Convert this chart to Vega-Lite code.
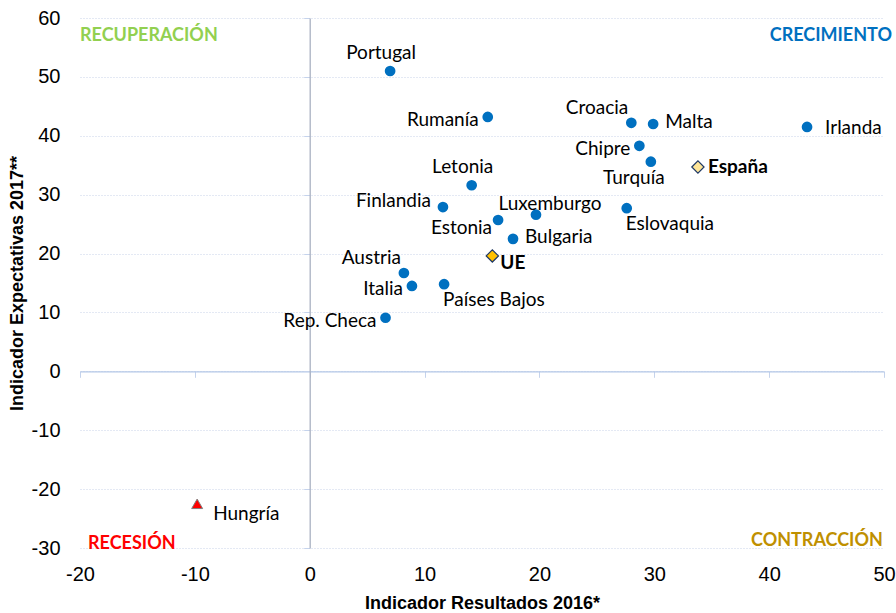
{
  "$schema": "https://vega.github.io/schema/vega-lite/v6.json",
  "width": 804,
  "height": 530,
  "autosize": {"type": "none"},
  "padding": {"left": 80, "top": 18, "right": 12, "bottom": 65},
  "background": "white",
  "config": {
    "view": {"stroke": null},
    "text": {"font": "Lato", "fontSize": 19, "color": "#000000", "baseline": "middle"}
  },
  "datasets": {
    "d": [
      {"pais": "Portugal", "x": 7.0, "y": 51.0, "tipo": "p"},
      {"pais": "Rumanía", "x": 15.5, "y": 43.2, "tipo": "p"},
      {"pais": "Croacia", "x": 28.0, "y": 42.2, "tipo": "p"},
      {"pais": "Malta", "x": 29.9, "y": 42.0, "tipo": "p"},
      {"pais": "Irlanda", "x": 43.3, "y": 41.5, "tipo": "p"},
      {"pais": "Chipre", "x": 28.7, "y": 38.3, "tipo": "p"},
      {"pais": "Turquía", "x": 29.7, "y": 35.6, "tipo": "p"},
      {"pais": "España", "x": 33.8, "y": 34.7, "tipo": "ES"},
      {"pais": "Letonia", "x": 14.1, "y": 31.6, "tipo": "p"},
      {"pais": "Finlandia", "x": 11.6, "y": 27.9, "tipo": "p"},
      {"pais": "Luxemburgo", "x": 19.7, "y": 26.6, "tipo": "p"},
      {"pais": "Eslovaquia", "x": 27.6, "y": 27.7, "tipo": "p"},
      {"pais": "Estonia", "x": 16.4, "y": 25.7, "tipo": "p"},
      {"pais": "Bulgaria", "x": 17.7, "y": 22.5, "tipo": "p"},
      {"pais": "UE", "x": 15.9, "y": 19.6, "tipo": "UE"},
      {"pais": "Austria", "x": 8.2, "y": 16.7, "tipo": "p"},
      {"pais": "Italia", "x": 8.9, "y": 14.5, "tipo": "p"},
      {"pais": "Países Bajos", "x": 11.7, "y": 14.8, "tipo": "p"},
      {"pais": "Rep. Checa", "x": 6.6, "y": 9.1, "tipo": "p"},
      {"pais": "Hungría", "x": -9.8, "y": -22.5, "tipo": "HU"}
    ]
  },
  "data": {"name": "d"},
  "resolve": {"axis": {"x": "independent", "y": "independent"}},
  "layer": [
    {
      "transform": [{"filter": "datum.tipo == 'p'"}],
      "mark": {"type": "circle", "size": 115, "opacity": 1, "color": "#0070C0"},
      "encoding": {
        "x": {
          "field": "x", "type": "quantitative",
          "scale": {"domain": [-20, 50], "nice": false, "zero": false},
          "axis": {
            "orient": "bottom", "values": [-20, -10, 0, 10, 20, 30, 40, 50],
            "labelExpr": "replace(datum.label, '\u2212', '-')",
            "domain": false, "ticks": false, "tickSize": 0, "grid": false,
            "labelFont": "Liberation Sans Narrow, Liberation Sans", "labelFontSize": 20, "labelColor": "#000000",
            "labelPadding": 16, "labelFlush": false,
            "title": "Indicador Resultados 2016*",
            "titleFont": "Liberation Sans Narrow, Liberation Sans", "titleFontSize": 18, "titleFontWeight": "bold", "titleColor": "#000000",
            "titleX": 402, "titleY": 55, "titleBaseline": "middle", "titleAlign": "center"
          }
        },
        "y": {
          "field": "y", "type": "quantitative",
          "scale": {"domain": [-30, 60], "nice": false, "zero": false},
          "axis": {
            "orient": "left", "values": [-30, -20, -10, 0, 10, 20, 30, 40, 50, 60],
            "labelExpr": "replace(datum.label, '\u2212', '-')",
            "domain": false, "ticks": false, "tickSize": 0,
            "grid": true, "gridColor": "#C9D3E8", "gridDash": [1, 2], "gridWidth": 1,
            "labelFont": "Liberation Sans Narrow, Liberation Sans", "labelFontSize": 20, "labelColor": "#000000",
            "labelPadding": 20, "labelFlush": false,
            "title": "Indicador Expectativas 2017**",
            "titleFont": "Liberation Sans Narrow, Liberation Sans", "titleFontSize": 18, "titleFontWeight": "bold", "titleColor": "#000000",
            "titleX": -63, "titleY": 265, "titleBaseline": "middle", "titleAlign": "center", "titleAngle": -90
          }
        }
      }
    },
    {
      "transform": [{"filter": "datum.tipo == 'HU'"}],
      "mark": {"type": "point", "shape": "triangle-up", "size": 120, "filled": true, "fill": "#FF0000", "stroke": "#7F7F7F", "strokeWidth": 1, "opacity": 1},
      "encoding": {
        "x": {
          "field": "x", "type": "quantitative",
          "axis": {
            "orient": "bottom", "offset": -176.7, "values": [-20, -10, 0, 10, 20, 30, 40, 50],
            "labels": false, "title": null, "grid": false,
            "domain": true, "domainColor": "#B4C7E7", "domainWidth": 1.3,
            "ticks": true, "tickColor": "#C5D3EC", "tickSize": 6, "tickWidth": 1
          }
        },
        "y": {
          "field": "y", "type": "quantitative",
          "axis": {
            "orient": "left", "offset": -229.7, "values": [-30, -20, -10, 0, 10, 20, 30, 40, 50, 60],
            "labels": false, "title": null, "grid": false,
            "domain": true, "domainColor": "#A9B1C2", "domainWidth": 1.3,
            "ticks": true, "tickColor": "#C5D3EC", "tickSize": 6, "tickWidth": 1
          }
        }
      }
    },
    {
      "transform": [{"filter": "datum.tipo == 'ES' || datum.tipo == 'UE'"}],
      "mark": {"type": "point", "shape": "diamond", "size": 150, "filled": true, "stroke": "#1F3864", "strokeWidth": 1.2, "opacity": 1},
      "encoding": {
        "x": {"field": "x", "type": "quantitative", "axis": null},
        "y": {"field": "y", "type": "quantitative", "axis": null},
        "fill": {"field": "tipo", "type": "nominal", "scale": {"domain": ["ES", "UE"], "range": ["#FFE699", "#FFC000"]}, "legend": null}
      }
    },
    {
      "transform": [{"filter": {"field": "pais", "oneOf": ["Malta", "Bulgaria"]}}],
      "mark": {"type": "text", "align": "left", "dx": 12, "dy": -2},
      "encoding": {"x": {"field": "x", "type": "quantitative", "axis": null}, "y": {"field": "y", "type": "quantitative", "axis": null}, "text": {"field": "pais"}}
    },
    {
      "transform": [{"filter": {"field": "pais", "oneOf": ["Irlanda"]}}],
      "mark": {"type": "text", "align": "left", "dx": 18, "dy": 1},
      "encoding": {"x": {"field": "x", "type": "quantitative", "axis": null}, "y": {"field": "y", "type": "quantitative", "axis": null}, "text": {"field": "pais"}}
    },
    {
      "transform": [{"filter": {"field": "pais", "oneOf": ["Rumanía", "Chipre", "Italia", "Rep. Checa"]}}],
      "mark": {"type": "text", "align": "right", "dx": -9, "dy": 3},
      "encoding": {"x": {"field": "x", "type": "quantitative", "axis": null}, "y": {"field": "y", "type": "quantitative", "axis": null}, "text": {"field": "pais"}}
    },
    {
      "transform": [{"filter": {"field": "pais", "oneOf": ["Finlandia"]}}],
      "mark": {"type": "text", "align": "right", "dx": -12, "dy": -6},
      "encoding": {"x": {"field": "x", "type": "quantitative", "axis": null}, "y": {"field": "y", "type": "quantitative", "axis": null}, "text": {"field": "pais"}}
    },
    {
      "transform": [{"filter": {"field": "pais", "oneOf": ["Croacia", "Austria"]}}],
      "mark": {"type": "text", "align": "right", "dx": -3, "dy": -15},
      "encoding": {"x": {"field": "x", "type": "quantitative", "axis": null}, "y": {"field": "y", "type": "quantitative", "axis": null}, "text": {"field": "pais"}}
    },
    {
      "transform": [{"filter": {"field": "pais", "oneOf": ["Portugal", "Letonia"]}}],
      "mark": {"type": "text", "align": "center", "dx": -9, "dy": -18},
      "encoding": {"x": {"field": "x", "type": "quantitative", "axis": null}, "y": {"field": "y", "type": "quantitative", "axis": null}, "text": {"field": "pais"}}
    },
    {
      "transform": [{"filter": {"field": "pais", "oneOf": ["Luxemburgo"]}}],
      "mark": {"type": "text", "align": "center", "dx": 14, "dy": -11},
      "encoding": {"x": {"field": "x", "type": "quantitative", "axis": null}, "y": {"field": "y", "type": "quantitative", "axis": null}, "text": {"field": "pais"}}
    },
    {
      "transform": [{"filter": {"field": "pais", "oneOf": ["Turquía"]}}],
      "mark": {"type": "text", "align": "center", "dx": -17, "dy": 16},
      "encoding": {"x": {"field": "x", "type": "quantitative", "axis": null}, "y": {"field": "y", "type": "quantitative", "axis": null}, "text": {"field": "pais"}}
    },
    {
      "transform": [{"filter": {"field": "pais", "oneOf": ["Estonia"]}}],
      "mark": {"type": "text", "align": "right", "dx": -6, "dy": 8},
      "encoding": {"x": {"field": "x", "type": "quantitative", "axis": null}, "y": {"field": "y", "type": "quantitative", "axis": null}, "text": {"field": "pais"}}
    },
    {
      "transform": [{"filter": {"field": "pais", "oneOf": ["Eslovaquia", "Países Bajos"]}}],
      "mark": {"type": "text", "align": "left", "dx": -1, "dy": 16},
      "encoding": {"x": {"field": "x", "type": "quantitative", "axis": null}, "y": {"field": "y", "type": "quantitative", "axis": null}, "text": {"field": "pais"}}
    },
    {
      "transform": [{"filter": {"field": "pais", "oneOf": ["España"]}}],
      "mark": {"type": "text", "align": "left", "dx": 10, "dy": 0, "fontWeight": "bold"},
      "encoding": {"x": {"field": "x", "type": "quantitative", "axis": null}, "y": {"field": "y", "type": "quantitative", "axis": null}, "text": {"field": "pais"}}
    },
    {
      "transform": [{"filter": {"field": "pais", "oneOf": ["UE"]}}],
      "mark": {"type": "text", "align": "left", "dx": 8, "dy": 7, "fontWeight": "bold"},
      "encoding": {"x": {"field": "x", "type": "quantitative", "axis": null}, "y": {"field": "y", "type": "quantitative", "axis": null}, "text": {"field": "pais"}}
    },
    {
      "transform": [{"filter": {"field": "pais", "oneOf": ["Hungría"]}}],
      "mark": {"type": "text", "align": "left", "dx": 16, "dy": 10},
      "encoding": {"x": {"field": "x", "type": "quantitative", "axis": null}, "y": {"field": "y", "type": "quantitative", "axis": null}, "text": {"field": "pais"}}
    },
    {
      "data": {"values": [{}]},
      "mark": {"type": "text", "align": "left", "fontWeight": "bold", "fontSize": 18, "color": "#92D050"},
      "encoding": {"x": {"datum": -20, "type": "quantitative", "axis": null}, "y": {"datum": 57.0, "type": "quantitative", "axis": null}, "text": {"value": "RECUPERACIÓN"}}
    },
    {
      "data": {"values": [{}]},
      "mark": {"type": "text", "align": "right", "fontWeight": "bold", "fontSize": 18, "color": "#0070C0", "dx": 8},
      "encoding": {"x": {"datum": 50, "type": "quantitative", "axis": null}, "y": {"datum": 57.0, "type": "quantitative", "axis": null}, "text": {"value": "CRECIMIENTO"}}
    },
    {
      "data": {"values": [{}]},
      "mark": {"type": "text", "align": "left", "fontWeight": "bold", "fontSize": 18, "color": "#FF0000"},
      "encoding": {"x": {"datum": -19.3, "type": "quantitative", "axis": null}, "y": {"datum": -29.3, "type": "quantitative", "axis": null}, "text": {"value": "RECESIÓN"}}
    },
    {
      "data": {"values": [{}]},
      "mark": {"type": "text", "align": "right", "fontWeight": "bold", "fontSize": 18, "color": "#BF9000"},
      "encoding": {"x": {"datum": 49.9, "type": "quantitative", "axis": null}, "y": {"datum": -28.8, "type": "quantitative", "axis": null}, "text": {"value": "CONTRACCIÓN"}}
    }
  ]
}
